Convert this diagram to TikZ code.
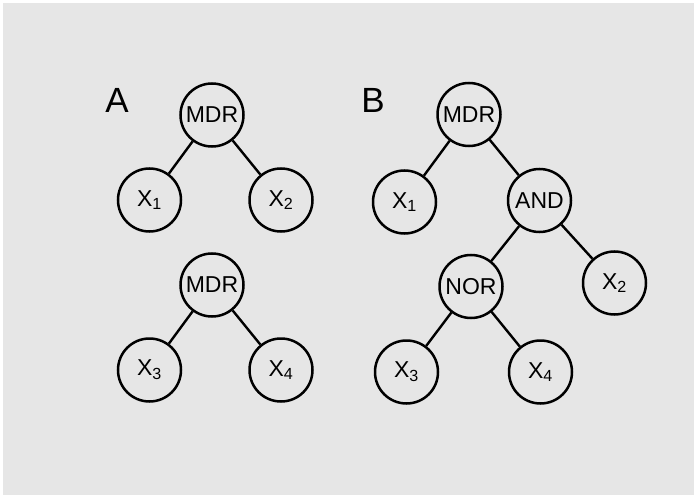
\documentclass[tikz,border=0pt]{standalone}
\usepackage{fontspec}
\setmainfont{Liberation Sans}
\definecolor{bg}{HTML}{E6E6E6}
\begin{document}
\begin{tikzpicture}[x=1pt,y=-1pt,
  nd/.style={circle,draw=black,line width=2.5pt,fill=bg,minimum size=63pt,inner sep=0pt,font=\fontsize{23}{23}\selectfont},
  edge/.style={line width=2.4pt},
  lab/.style={font=\fontsize{35}{35}\selectfont}]
\useasboundingbox (0,0) rectangle (694,495);
\fill[white] (0,0) rectangle (694,495);
\fill[bg] (3,3) rectangle (694,495);
% Panel A
\node[lab] (la) at (117,100) {A};
\node[nd] (a1) at (212,115) {MDR};
\node[nd] (a2) at (149.5,200) {X\textsubscript{1}};
\node[nd] (a3) at (281,200) {X\textsubscript{2}};
\node[nd] (a4) at (212,285) {MDR};
\node[nd] (a5) at (149.5,370) {X\textsubscript{3}};
\node[nd] (a6) at (281,370) {X\textsubscript{4}};
\draw[edge] (a1) -- (a2);
\draw[edge] (a1) -- (a3);
\draw[edge] (a4) -- (a5);
\draw[edge] (a4) -- (a6);
% Panel B
\node[lab] (lb) at (373,100) {B};
\node[nd] (b1) at (469,114.5) {MDR};
\node[nd] (b2) at (404.5,202) {X\textsubscript{1}};
\node[nd] (b3) at (539.5,200.5) {AND};
\node[nd] (b4) at (471,286.5) {NOR};
\node[nd] (b5) at (614.5,283) {X\textsubscript{2}};
\node[nd] (b6) at (406.5,372) {X\textsubscript{3}};
\node[nd] (b7) at (540.5,372) {X\textsubscript{4}};
\draw[edge] (b1) -- (b2);
\draw[edge] (b1) -- (b3);
\draw[edge] (b3) -- (b4);
\draw[edge] (b3) -- (b5);
\draw[edge] (b4) -- (b6);
\draw[edge] (b4) -- (b7);
\end{tikzpicture}
\end{document}
